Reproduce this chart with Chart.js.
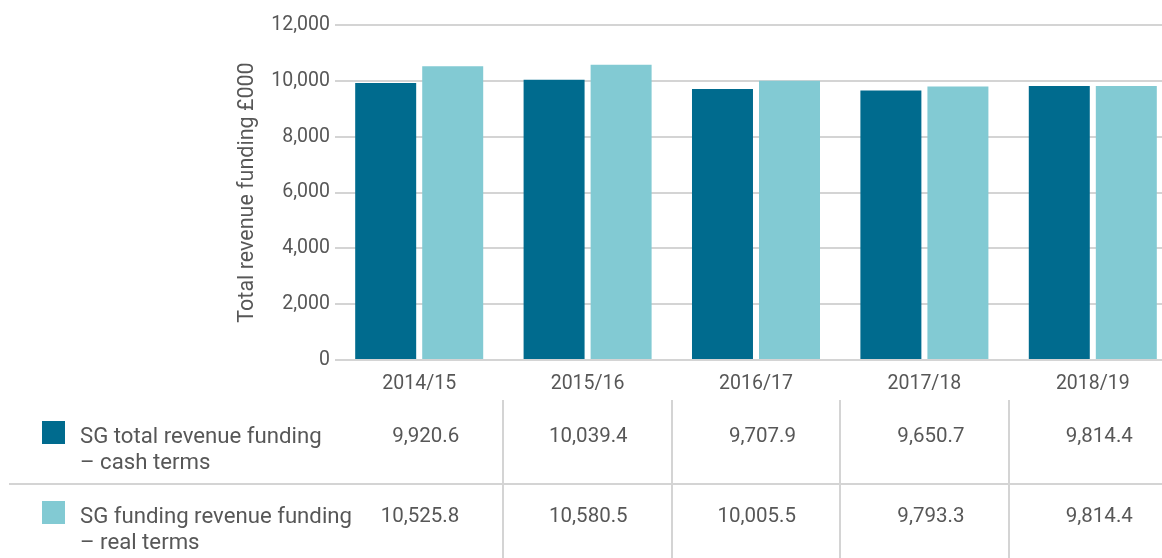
<!DOCTYPE html>
<html>
<head>
<meta charset="utf-8">
<script src="https://cdn.jsdelivr.net/npm/chart.js@4.4.1/dist/chart.umd.min.js"></script>
<style>
    html, body { margin: 0; padding: 0; background: #fff; width: 1162px; height: 558px; overflow: hidden; }
    #chartWrap { position: absolute; left: 0; top: 0; width: 1180px; height: 400px; }
    #dataTable { position: absolute; left: 0; top: 0; width: 1162px; height: 558px; font-family: Roboto, sans-serif; font-size: 22.2px; color: #575757; }
    .cell { position: absolute; white-space: nowrap; line-height: 26px; }
    .num { font-size: 20.5px; }
    .swatch { position: absolute; width: 23px; height: 23px; }
    .hline { position: absolute; height: 2px; background: #d4d4d4; }
    .vline { position: absolute; width: 2px; background: #d4d4d4; }
</style>
</head>
<body>
<div id="chartWrap"><canvas id="fundingChart" width="1180" height="400"></canvas></div>
<div id="dataTable"></div>
<script>
document.addEventListener('DOMContentLoaded', function () {
    const categories = ['2014/15', '2015/16', '2016/17', '2017/18', '2018/19'];
    const cashTerms = [9920.6, 10039.4, 9707.9, 9650.7, 9814.4];
    const realTerms = [10525.8, 10580.5, 10005.5, 9793.3, 9814.4];
    const seriesNames = [
        ['SG total revenue funding', '– cash terms'],
        ['SG funding revenue funding', '– real terms']
    ];
    const seriesColors = ['#006b8e', '#82cad3'];
    const axisTitle = 'Total revenue funding £000';

    const fmtTick = v => v.toLocaleString('en-GB');
    const fmtValue = v => v.toLocaleString('en-GB', { minimumFractionDigits: 1, maximumFractionDigits: 1 });

    const textColor = '#575757';
    const gridColor = '#d4d4d4';
    const font = { family: 'Roboto, sans-serif', size: 19.5 };
    const titleFont = { family: 'Roboto, sans-serif', size: 21.5 };

    const ctx = document.getElementById('fundingChart').getContext('2d');
    const chart = new Chart(ctx, {
        type: 'bar',
        data: {
            labels: categories,
            datasets: [
                { label: seriesNames[0].join(' '), data: cashTerms, backgroundColor: seriesColors[0] },
                { label: seriesNames[1].join(' '), data: realTerms, backgroundColor: seriesColors[1] }
            ]
        },
        options: {
            responsive: false,
            animation: false,
            categoryPercentage: 0.796,
            barPercentage: 0.91,
            layout: { padding: { top: 25, right: 3, left: 0, bottom: 0 } },
            plugins: {
                legend: { display: false },
                tooltip: { enabled: false }
            },
            scales: {
                x: {
                    grid: { display: false },
                    border: { display: false },
                    ticks: { color: textColor, font: font, padding: 4, maxRotation: 0 },
                    afterFit: scale => { scale.height = 40; }
                },
                y: {
                    min: 0,
                    max: 12000,
                    ticks: { stepSize: 2000, color: textColor, font: font, padding: 5, callback: v => fmtTick(v) },
                    grid: { color: gridColor, lineWidth: 2, drawTicks: false },
                    border: { display: false },
                    title: { display: true, text: axisTitle, color: textColor, font: titleFont, padding: { top: 235, bottom: 0 } },
                    afterFit: scale => { scale.width = 335; }
                }
            }
        }
    });

    // table under the chart, columns follow the x scale
    const renderTable = () => {
        const table = document.getElementById('dataTable');
        table.innerHTML = '';
        const xs = chart.scales.x;
        const colW = xs.width / categories.length;
        const rows = [
            { textTop: 422, values: cashTerms },
            { textTop: 502, values: realTerms }
        ];

        rows.forEach((row, r) => {
            const sw = document.createElement('div');
            sw.className = 'swatch';
            sw.style.left = '42px';
            sw.style.top = (row.textTop - 1) + 'px';
            sw.style.background = seriesColors[r];
            table.appendChild(sw);

            seriesNames[r].forEach((line, i) => {
                const c = document.createElement('div');
                c.className = 'cell';
                c.style.left = '80px';
                c.style.top = (row.textTop + i * 26) + 'px';
                c.textContent = line;
                table.appendChild(c);
            });

            row.values.forEach((v, i) => {
                const c = document.createElement('div');
                c.className = 'cell num';
                c.style.right = (1162 - (xs.getPixelForValue(i) + 40)) + 'px';
                c.style.top = row.textTop + 'px';
                c.textContent = fmtValue(v);
                table.appendChild(c);
            });
        });

        const h = document.createElement('div');
        h.className = 'hline';
        h.style.left = '9px';
        h.style.width = '1153px';
        h.style.top = '483px';
        table.appendChild(h);

        for (let i = 1; i < categories.length; i++) {
            const v = document.createElement('div');
            v.className = 'vline';
            v.style.left = Math.round(xs.left + i * colW - 1) + 'px';
            v.style.top = '400px';
            v.style.height = '158px';
            table.appendChild(v);
        }
    };

    renderTable();
});
</script>
</body>
</html>
